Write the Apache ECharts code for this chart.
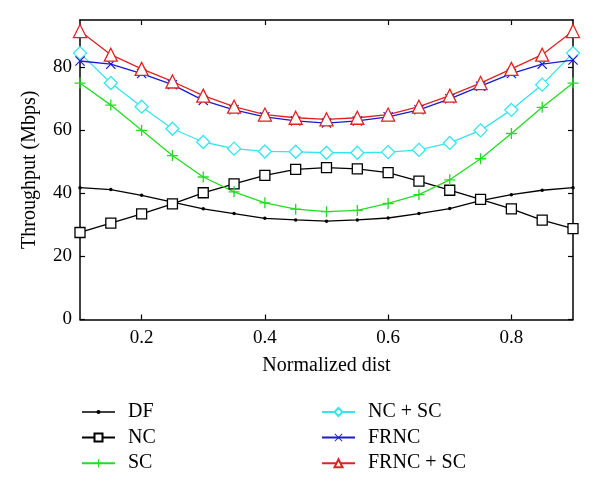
<!DOCTYPE html>
<html>
<head>
<meta charset="utf-8">
<script src="https://cdn.jsdelivr.net/npm/echarts@6/dist/echarts.min.js"></script>
<style>html,body{margin:0;padding:0;background:#fff}#c{width:600px;height:495px}</style>
</head>
<body>
<div id="c"></div>
<script>
var xValues = [0.1,0.15,0.2,0.25,0.3,0.35,0.4,0.45,0.5,0.55,0.6,0.65,0.7,0.75,0.8,0.85,0.9];
var xTicks = [0.2,0.4,0.6,0.8];
var yTicks = [0,20,40,60,80];
var dfData = [41.8,41.2,39.4,37.2,35.1,33.6,32.1,31.6,31.2,31.6,32.2,33.6,35.2,37.7,39.6,41.0,41.8];
var ncData = [27.6,30.6,33.5,36.7,40.2,43.0,45.7,47.6,48.2,47.8,46.6,43.9,41.0,38.1,35.1,31.5,28.8];
var scData = [75.0,68.0,60.0,52.0,45.2,40.5,37.0,35.0,34.2,34.6,36.8,39.6,44.3,51.0,59.0,67.3,75.0];
var ncscData = [84.5,75.0,67.5,60.5,56.3,54.2,53.3,53.2,52.9,52.9,53.1,53.8,56.0,60.0,66.5,74.5,84.5];
var frncData = [82.0,81.0,78.0,74.5,69.5,66.5,64.3,63.0,62.3,63.0,64.3,66.5,70.0,74.0,78.0,81.0,82.3];
var frncscData = [91.5,84.0,79.5,75.5,71.0,67.5,65.0,64.0,63.5,64.0,65.0,67.5,71.0,75.0,79.5,84.0,91.5];
var seriesNames = ['DF','NC','SC','NC + SC','FRNC','FRNC + SC'];

function pairs(arr){ return arr.map(function(v,i){ return [xValues[i], v]; }); }
var FONT = '"Liberation Serif", "DejaVu Serif", serif';
var plusPath = 'path://M4.4,0H5.6V4.4H10V5.6H5.6V10H4.4V5.6H0V4.4H4.4Z';
var crossPath = 'path://M0.8,0L5,4.2L9.2,0L10,0.8L5.8,5L10,9.2L9.2,10L5,5.8L0.8,10L0,9.2L4.2,5L0,0.8Z';
var dfLegendIcon = 'path://M0,4.35H33V5.65H0Z M18.6,5A2.1,2.1,0,1,1,14.4,5A2.1,2.1,0,1,1,18.6,5Z';

function mk(name, data, color, symbol, size, hollow){
  return {
    name: name, type: 'line', data: pairs(data),
    symbol: symbol, symbolSize: size,
    lineStyle: {color: color, width: 1.3},
    itemStyle: hollow ? {color: '#fff', borderColor: color, borderWidth: 1.3} : {color: color, borderWidth: 0},
    animation: false, z: 3
  };
}

var chart = echarts.init(document.getElementById('c'), null, {renderer: 'canvas'});
var tickStyle = {show: true, inside: true, length: 5, lineStyle: {color: '#000', width: 1.2}};
var legendText = {fontFamily: FONT, fontSize: 20, color: '#000', lineHeight: 20, padding: [0,0,0,8]};
chart.setOption({
  backgroundColor: '#fff',
  animation: false,
  grid: {left: 80, right: 27, top: 20, bottom: 175.5},
  xAxis: [{
    type: 'value', min: 0.1, max: 0.9, position: 'bottom',
    name: 'Normalized dist', nameLocation: 'middle', nameGap: 36,
    nameTextStyle: {fontFamily: FONT, fontSize: 20, color: '#000'},
    axisLine: {show: true, onZero: false, lineStyle: {color: '#000', width: 1.5}},
    axisTick: Object.assign({customValues: xTicks}, tickStyle),
    axisLabel: {customValues: xTicks, fontFamily: FONT, fontSize: 19, color: '#000', margin: 9},
    splitLine: {show: false}
  },{
    type: 'value', min: 0.1, max: 0.9, position: 'top',
    axisLine: {show: true, onZero: false, lineStyle: {color: '#000', width: 1.5}},
    axisTick: Object.assign({customValues: xTicks}, tickStyle),
    axisLabel: {show: false},
    splitLine: {show: false}
  }],
  yAxis: [{
    type: 'value', min: 0, max: 95, position: 'left',
    name: 'Throughput (Mbps)', nameLocation: 'middle', nameGap: 40,
    nameTextStyle: {fontFamily: FONT, fontSize: 20, color: '#000'},
    axisLine: {show: true, onZero: false, lineStyle: {color: '#000', width: 1.5}},
    axisTick: Object.assign({customValues: yTicks}, tickStyle),
    axisLabel: {customValues: yTicks, fontFamily: FONT, fontSize: 19, color: '#000', margin: 8},
    splitLine: {show: false}
  },{
    type: 'value', min: 0, max: 95, position: 'right',
    axisLine: {show: true, onZero: false, lineStyle: {color: '#000', width: 1.5}},
    axisTick: Object.assign({customValues: yTicks}, tickStyle),
    axisLabel: {show: false},
    splitLine: {show: false}
  }],
  legend: [{
    data: [{name: 'DF', icon: dfLegendIcon}, 'NC', 'SC'],
    orient: 'vertical', left: 81, top: 402, padding: 0,
    itemWidth: 33, itemHeight: 10, itemGap: 5.6,
    textStyle: legendText
  },{
    data: seriesNames.slice(3), orient: 'vertical', left: 321, top: 402, padding: 0,
    itemWidth: 33, itemHeight: 10, itemGap: 5.6,
    textStyle: legendText
  }],
  series: [
    mk('DF', dfData, '#000000', 'circle', 3.5, false),
    mk('NC', ncData, '#000000', 'rect', 10, true),
    mk('SC', scData, '#22dd22', plusPath, 11, false),
    mk('NC + SC', ncscData, '#33e6ee', 'diamond', 13, true),
    mk('FRNC', frncData, '#1a1ad0', crossPath, 10, false),
    mk('FRNC + SC', frncscData, '#e02222', 'triangle', 13, true)
  ]
});
</script>
</body>
</html>
